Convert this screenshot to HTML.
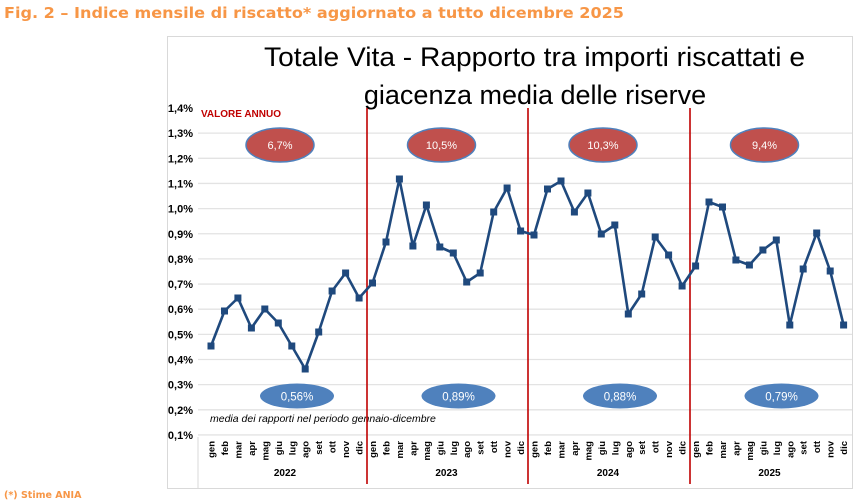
<!DOCTYPE html>
<html><head><meta charset="utf-8"><style>
html,body{margin:0;padding:0;background:#fff;width:856px;height:504px;overflow:hidden}
svg{display:block;font-family:"Liberation Sans",sans-serif}
</style></head><body>
<svg id="s" width="856" height="504" xmlns="http://www.w3.org/2000/svg">
<text x="4" y="18" font-size="15.5" font-weight="bold" fill="#f79646" font-family="'DejaVu Sans',sans-serif" textLength="620" lengthAdjust="spacingAndGlyphs">Fig. 2 – Indice mensile di riscatto* aggiornato a tutto dicembre 2025</text>
<text x="4" y="498" font-size="9.5" font-weight="bold" fill="#f79646" font-family="'DejaVu Sans',sans-serif">(*) Stime ANIA</text>
<rect x="167.5" y="36.5" width="685" height="452" fill="none" stroke="#d9d9d9"/>
<text x="264" y="66" font-size="27" fill="#000" textLength="541" lengthAdjust="spacingAndGlyphs">Totale Vita - Rapporto tra importi riscattati e</text>
<text x="535" y="104" font-size="27" text-anchor="middle" fill="#000">giacenza media delle riserve</text>
<g id="g"></g>
</svg>
<script>
var g=document.getElementById('g'),h='';
function Y(v){return 108+(1.4-v)*251.5;}
for(var i=0;i<14;i++){var v=(14-i)/10,y=Y(v);
 if(i>0)h+='<line x1="198" x2="852" y1="'+y+'" y2="'+y+'" stroke="#e3e3e3" stroke-width="1.3"/>';
 h+='<text x="193" y="'+(y+4)+'" font-size="11" font-weight="bold" text-anchor="end">'+v.toFixed(1).replace('.',',')+'%</text>';}
h+='<line x1="198" x2="198" y1="437" y2="488" stroke="#d9d9d9"/>';
h+='<text x="201" y="117" font-size="10" font-weight="bold" fill="#c00000">VALORE ANNUO</text>';
h+='<text x="210" y="422" font-size="10.5" font-style="italic">media dei rapporti nel periodo gennaio-dicembre</text>';
[367,528,690].forEach(function(x){h+='<line x1="'+x+'" x2="'+x+'" y1="108" y2="484" stroke="#c00000" stroke-width="1.6"/>';});
var ys=[346,311,298,328,309,323,346,369,332,291,273,298,283,242,179,246,205,247,253,282,273,212,188,231,235,189,181,212,193,234,225,314,294,237,255,286,266,202,207,260,265,250,240,325,269,233,271,325];
var m=['gen','feb','mar','apr','mag','giu','lug','ago','set','ott','nov','dic'];
var pts=[];
for(var i=0;i<48;i++){var x=211+i*13.46;pts.push(x.toFixed(1)+','+ys[i]);
 h+='<text transform="translate('+(x+3.5)+',441) rotate(-90)" font-size="9.5" font-weight="bold" text-anchor="end">'+m[i%12]+'</text>';}
h+='<polyline points="'+pts.join(' ')+'" fill="none" stroke="#1f497d" stroke-width="2.6" stroke-linejoin="round"/>';
pts.forEach(function(p){var a=p.split(',');h+='<rect x="'+(a[0]-3.5)+'" y="'+(a[1]-3.5)+'" width="7" height="7" fill="#1f497d"/>';});
var yr=['2022','2023','2024','2025'],ra=['6,7%','10,5%','10,3%','9,4%'],bl=['0,56%','0,89%','0,88%','0,79%'];
for(var k=0;k<4;k++){var cx=280+k*161.5;
 h+='<text x="'+(cx+5)+'" y="476" font-size="10" font-weight="bold" text-anchor="middle">'+yr[k]+'</text>';
 h+='<ellipse cx="'+cx+'" cy="145" rx="34" ry="17" fill="#c0504d" stroke="#4f81bd" stroke-width="1.5"/>';
 h+='<text x="'+cx+'" y="149" font-size="11" fill="#fff" text-anchor="middle">'+ra[k]+'</text>';
 h+='<ellipse cx="'+(cx+17)+'" cy="396" rx="37" ry="12.5" fill="#4f81bd"/>';
 h+='<text x="'+(cx+17)+'" y="400.5" font-size="11.5" fill="#fff" text-anchor="middle">'+bl[k]+'</text>';}
g.innerHTML=h;
</script>
</body></html>
